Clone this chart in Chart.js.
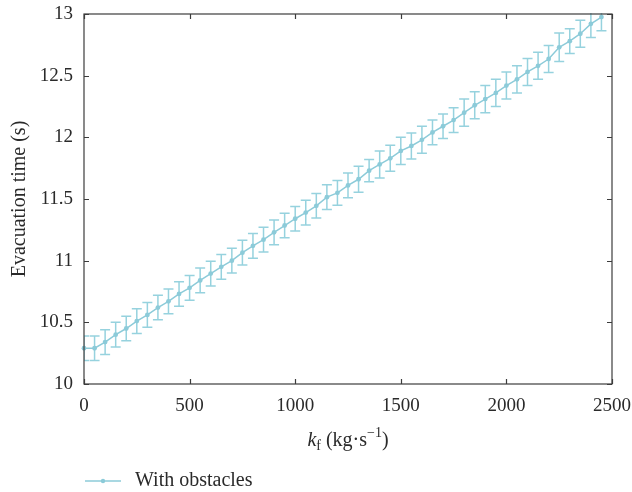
<!DOCTYPE html>
<html>
<head>
<meta charset="utf-8">
<script src="https://cdn.jsdelivr.net/npm/chart.js@4.4.0/dist/chart.umd.min.js"></script>
<style>
  html, body { margin: 0; padding: 0; background: #fff; }
</style>
</head>
<body>
<canvas id="evacChart" width="632" height="492"></canvas>
<script>
// values
const kfValues = [
  0, 50, 100, 150, 200, 250, 300, 350, 400, 450,
  500, 550, 600, 650, 700, 750, 800, 850, 900, 950,
  1000, 1050, 1100, 1150, 1200, 1250, 1300, 1350, 1400, 1450,
  1500, 1550, 1600, 1650, 1700, 1750, 1800, 1850, 1900, 1950,
  2000, 2050, 2100, 2150, 2200, 2250, 2300, 2350, 2400, 2450
]
const evacTime = [
  10.29, 10.29, 10.34, 10.40, 10.45, 10.51, 10.56, 10.62, 10.67, 10.73,
  10.78, 10.84, 10.895, 10.95, 11.00, 11.065, 11.12, 11.17, 11.23, 11.285,
  11.34, 11.39, 11.445, 11.515, 11.55, 11.61, 11.66, 11.73, 11.78, 11.83,
  11.89, 11.93, 11.98, 12.04, 12.09, 12.14, 12.20, 12.26, 12.31, 12.36,
  12.42, 12.47, 12.53, 12.58, 12.635, 12.73, 12.78, 12.84, 12.92, 12.975
]
const evacErr = [
  0.10, 0.10, 0.10, 0.10, 0.10, 0.10, 0.10, 0.10, 0.10, 0.10,
  0.10, 0.10, 0.10, 0.10, 0.10, 0.10, 0.10, 0.10, 0.10, 0.10,
  0.10, 0.10, 0.10, 0.10, 0.10, 0.10, 0.105, 0.09, 0.11, 0.105,
  0.11, 0.105, 0.11, 0.10, 0.10, 0.10, 0.11, 0.11, 0.11, 0.11,
  0.11, 0.11, 0.11, 0.11, 0.11, 0.115, 0.10, 0.11, 0.11, 0.11
]
const xTicks = [0, 500, 1000, 1500, 2000, 2500]
const yTicks = [10, 10.5, 11, 11.5, 12, 12.5, 13]
const seriesLabel = 'With obstacles'

const lineColor = 'rgb(140, 203, 217)'
const barColor = 'rgb(150, 210, 222)'
const frameColor = '#3c3c3c'
const textColor = '#2a2a2a'
const serif = '"Liberation Serif", "DejaVu Serif", serif'

// 框線、刻度、誤差棒、標題、圖例
const decorPlugin = {
  id: 'decor',
  beforeDatasetsDraw (chart) {
    const { ctx, chartArea: a, scales } = chart
    const xs = scales.x
    const ys = scales.y
    ctx.save()
    ctx.beginPath()
    ctx.rect(a.left, a.top - 1, a.right - a.left, a.bottom - a.top + 2)
    ctx.clip()
    ctx.strokeStyle = barColor
    ctx.lineWidth = 1.5
    for (let i = 0; i < kfValues.length; i++) {
      const px = xs.getPixelForValue(kfValues[i])
      const top = ys.getPixelForValue(evacTime[i] + evacErr[i])
      const bot = ys.getPixelForValue(evacTime[i] - evacErr[i])
      ctx.beginPath()
      ctx.moveTo(px, top)
      ctx.lineTo(px, bot)
      ctx.moveTo(px - 5, top)
      ctx.lineTo(px + 5, top)
      ctx.moveTo(px - 5, bot)
      ctx.lineTo(px + 5, bot)
      ctx.stroke()
    }
    ctx.restore()
  },
  afterDraw (chart) {
    const { ctx, chartArea: a, scales } = chart
    const xs = scales.x
    const ys = scales.y
    ctx.save()
    // frame
    ctx.strokeStyle = frameColor
    ctx.lineWidth = 1.2
    ctx.strokeRect(a.left, a.top, a.right - a.left, a.bottom - a.top)
    // inward ticks
    const tl = 5
    ctx.beginPath()
    xTicks.forEach((v) => {
      const px = Math.round(xs.getPixelForValue(v)) + 0.5
      ctx.moveTo(px, a.bottom)
      ctx.lineTo(px, a.bottom - tl)
      ctx.moveTo(px, a.top)
      ctx.lineTo(px, a.top + tl)
    })
    yTicks.forEach((v) => {
      const py = Math.round(ys.getPixelForValue(v)) + 0.5
      ctx.moveTo(a.left, py)
      ctx.lineTo(a.left + tl, py)
      ctx.moveTo(a.right, py)
      ctx.lineTo(a.right - tl, py)
    })
    ctx.stroke()

    // y title
    ctx.fillStyle = textColor
    ctx.font = '20px ' + serif
    ctx.textAlign = 'center'
    ctx.textBaseline = 'middle'
    ctx.save()
    ctx.translate(20, (a.top + a.bottom) / 2)
    ctx.rotate(-Math.PI / 2)
    ctx.fillText('Evacuation time (s)', 0, 0)
    ctx.restore()

    // x title: k_f (kg·s^-1)
    const parts = [
      { t: 'k', font: 'italic 20px ' + serif, dy: 0 },
      { t: 'f', font: '14px ' + serif, dy: 4 },
      { t: ' (kg·s', font: '20px ' + serif, dy: 0 },
      { t: '−1', font: '14px ' + serif, dy: -9 },
      { t: ')', font: '20px ' + serif, dy: 0 }
    ]
    let total = 0
    parts.forEach((p) => {
      ctx.font = p.font
      p.w = ctx.measureText(p.t).width
      total += p.w
    })
    let cx = (a.left + a.right) / 2 - total / 2
    const base = 446
    ctx.textAlign = 'left'
    ctx.textBaseline = 'alphabetic'
    parts.forEach((p) => {
      ctx.font = p.font
      ctx.fillText(p.t, cx, base + p.dy)
      cx += p.w
    })

    // legend
    const ly = 481
    ctx.strokeStyle = lineColor
    ctx.lineWidth = 1.5
    ctx.beginPath()
    ctx.moveTo(85, ly)
    ctx.lineTo(121, ly)
    ctx.stroke()
    ctx.fillStyle = lineColor
    ctx.beginPath()
    ctx.arc(103, ly, 2.2, 0, Math.PI * 2)
    ctx.fill()
    ctx.fillStyle = textColor
    ctx.font = '20px ' + serif
    ctx.textBaseline = 'middle'
    ctx.fillText(seriesLabel, 135, ly)
    ctx.restore()
  }
}

const points = kfValues.map((v, i) => ({ x: v, y: evacTime[i] }))

new Chart(document.getElementById('evacChart'), {
  type: 'line',
  data: {
    datasets: [{
      label: seriesLabel,
      data: points,
      borderColor: lineColor,
      backgroundColor: lineColor,
      borderWidth: 1.5,
      pointRadius: 2.4,
      pointBorderWidth: 0,
      pointHoverRadius: 2.4,
      tension: 0,
      clip: 3
    }]
  },
  options: {
    responsive: false,
    animation: false,
    events: [],
    layout: { padding: { top: 14, right: 20, left: 0, bottom: 0 } },
    plugins: {
      legend: { display: false },
      tooltip: { enabled: false }
    },
    scales: {
      x: {
        type: 'linear',
        min: 0,
        max: 2500,
        grid: { display: false, drawTicks: false },
        border: { display: false },
        afterBuildTicks: (scale) => { scale.ticks = xTicks.map((v) => ({ value: v })) },
        afterFit: (scale) => {
          scale.height = 108
          scale.paddingLeft = 0
          scale.paddingRight = 0
        },
        ticks: {
          color: textColor,
          font: { family: serif, size: 19 },
          padding: 11,
          maxRotation: 0,
          autoSkip: false,
          callback: (v) => String(v)
        }
      },
      y: {
        type: 'linear',
        min: 10,
        max: 13,
        grid: { display: false, drawTicks: false },
        border: { display: false },
        afterBuildTicks: (scale) => { scale.ticks = yTicks.map((v) => ({ value: v })) },
        afterFit: (scale) => {
          scale.width = 84
          scale.paddingTop = 0
          scale.paddingBottom = 0
        },
        ticks: {
          color: textColor,
          font: { family: serif, size: 19 },
          padding: 11,
          autoSkip: false,
          callback: (v) => String(v)
        }
      }
    }
  },
  plugins: [decorPlugin]
})
</script>
</body>
</html>
